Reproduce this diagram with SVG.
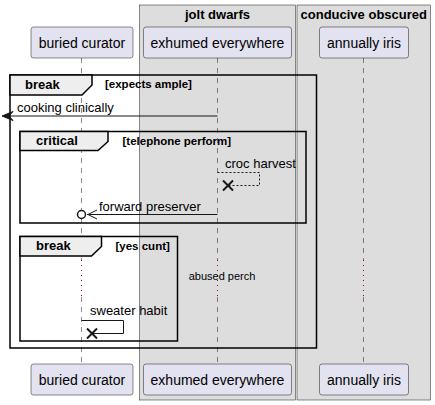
<svg xmlns="http://www.w3.org/2000/svg" width="435" height="405" viewBox="0 0 435 405">
<style>
.grp{fill:#DDDDDD;stroke:#181818;stroke-width:0.5}
.gt{font-family:"Liberation Sans",Arial,sans-serif;font-size:13px;font-weight:bold;fill:#000;text-anchor:middle}
.part{fill:#E2E2F0;stroke:#181818;stroke-width:0.5}
.pt{font-family:"Liberation Sans",Arial,sans-serif;font-size:14px;fill:#000;text-anchor:middle}
.life{stroke:#181818;stroke-width:0.5;stroke-dasharray:5,5;fill:none}
.delay{stroke:#A80036;stroke-width:1;stroke-dasharray:1,4;fill:none}
.frame{fill:none;stroke:#000;stroke-width:1.5}
.tab{fill:#EEEEEE;stroke:#000;stroke-width:1.5}
.ft{font-family:"Liberation Sans",Arial,sans-serif;font-size:13px;font-weight:bold;fill:#000}
.guard{font-family:"Liberation Sans",Arial,sans-serif;font-size:11.5px;font-weight:bold;fill:#000}
.msg{stroke:#181818;stroke-width:1;fill:none}
.mt{font-family:"Liberation Sans",Arial,sans-serif;font-size:13px;fill:#000}
.dt{font-family:"Liberation Sans",Arial,sans-serif;font-size:11px;fill:#000}
.x{stroke:#181818;stroke-width:2;fill:none}
</style>
<g id="box-jolt-dwarfs">
<rect class="grp" x="139.5" y="5" width="156" height="395"/>
<text class="gt" x="217.5" y="18.5">jolt dwarfs</text>
</g>
<g id="box-conducive-obscured">
<rect class="grp" x="297" y="5" width="133.5" height="395"/>
<text class="gt" x="363.75" y="18.5">conducive obscured</text>
</g>
<g id="lifelines">
<path class="life" d="M81.5,58 V260 M81.5,297 V364"/>
<path class="delay" d="M81.5,260 V297"/>
<path class="life" d="M217.5,58 V260 M217.5,297 V364"/>
<path class="delay" d="M217.5,260 V297"/>
<path class="life" d="M363.5,58 V260 M363.5,297 V364"/>
<path class="delay" d="M363.5,260 V297"/>
</g>
<g id="buried-curator">
<rect class="part" x="31" y="27" width="102" height="31" rx="2.5"/>
<text class="pt" x="82" y="48">buried curator</text>
<rect class="part" x="31" y="364" width="102" height="31" rx="2.5"/>
<text class="pt" x="82" y="385">buried curator</text>
</g>
<g id="exhumed-everywhere">
<rect class="part" x="143.5" y="27" width="148" height="31" rx="2.5"/>
<text class="pt" x="217.5" y="48">exhumed everywhere</text>
<rect class="part" x="143.5" y="364" width="148" height="31" rx="2.5"/>
<text class="pt" x="217.5" y="385">exhumed everywhere</text>
</g>
<g id="annually-iris">
<rect class="part" x="319.5" y="27" width="89" height="31" rx="2.5"/>
<text class="pt" x="364" y="48">annually iris</text>
<rect class="part" x="319.5" y="364" width="89" height="31" rx="2.5"/>
<text class="pt" x="364" y="385">annually iris</text>
</g>
<g id="frame-break-outer">
<rect class="frame" x="10" y="75" width="306.5" height="273"/>
<path class="tab" d="M10,75 H92 V85 L82,95 H10 Z"/>
<text class="ft" x="25" y="89">break</text>
<text class="guard" x="105" y="88">[expects ample]</text>
</g>
<g id="frame-critical">
<rect class="frame" x="20" y="131.5" width="286" height="91.5"/>
<path class="tab" d="M20,131.5 H108 V141.5 L98,150.5 H20 Z"/>
<text class="ft" x="36" y="145">critical</text>
<text class="guard" x="122.5" y="145">[telephone perform]</text>
</g>
<g id="frame-break-inner">
<rect class="frame" x="20" y="236.5" width="157.5" height="104.5"/>
<path class="tab" d="M20,236.5 H101.5 V246.5 L91.5,256 H20 Z"/>
<text class="ft" x="36" y="250">break</text>
<text class="guard" x="115.5" y="250">[yes cunt]</text>
</g>
<g id="connectors">
<line class="msg" x1="217.5" y1="116" x2="4" y2="116"/>
<polygon points="2,116 13,111.5 9,116 13,120.5" fill="#181818" stroke="#181818"/>
<text class="mt" x="17" y="112">cooking clinically</text>
<path class="msg" d="M217.5,172.5 H259.5 V185.5 H228" stroke-dasharray="2,2"/>
<path class="x" d="M223,180.5 L233,190.5 M223,190.5 L233,180.5"/>
<text class="mt" x="225" y="167.5">croc harvest</text>
<line class="msg" x1="217.5" y1="214.5" x2="87" y2="214.5"/>
<path class="msg" d="M97,210 L88,214.5 L97,219" stroke-width="1.5"/>
<circle cx="81.5" cy="214.5" r="4" fill="#fff" stroke="#181818" stroke-width="1.5"/>
<text class="mt" x="99" y="210.5">forward preserver</text>
<text class="dt" x="222" y="280" text-anchor="middle">abused perch</text>
<path class="msg" d="M81.5,320.5 H123.5 V333.5 H92"/>
<path class="x" d="M87,328.5 L97,338.5 M87,338.5 L97,328.5"/>
<text class="mt" x="90" y="315">sweater habit</text>
</g>
</svg>
